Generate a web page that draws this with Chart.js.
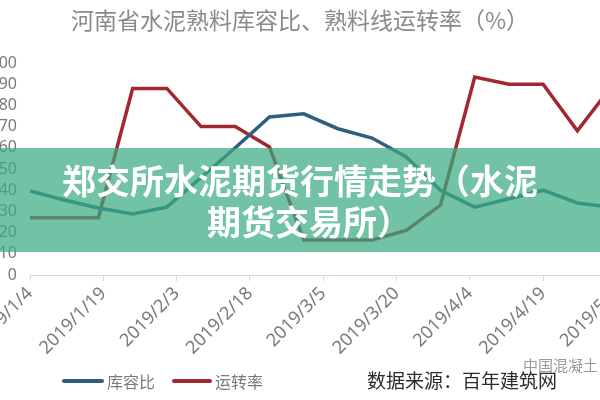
<!DOCTYPE html>
<html>
<head>
<meta charset="utf-8">
<script src="https://cdn.jsdelivr.net/npm/chart.js@4/dist/chart.umd.min.js"></script>
<style>
  html, body { margin:0; padding:0; background:#fff; width:600px; height:400px; overflow:hidden; position:relative; font-family:"Noto Sans CJK SC","Noto Sans",sans-serif; }
  #wrap { position:absolute; left:-40px; top:0; width:700px; height:400px; }
  .abs { position:absolute; white-space:nowrap; }
  #title { left:0; width:600px; top:5px; text-align:center; font-size:23px; line-height:28px; color:#8a8a8a; }
  #banner { left:0; top:148px; width:600px; height:104px; background:rgba(60,170,130,0.72); }
  .bline { position:absolute; left:0; width:600px; text-align:center; color:#fff; font-weight:700; font-size:34px; line-height:41px; }
  .leg { height:4px; border-radius:2px; }
  .legt { font-size:16px; color:#7a7a7a; line-height:22px; }
  #src { left:367px; top:368px; font-size:19px; color:#2b2b2b; line-height:24px; }
  #wm { left:523px; top:356px; font-size:15px; color:#9a9a9a; line-height:18px; }
</style>
</head>
<body>
<div id="wrap"><canvas id="c" width="700" height="400"></canvas></div>
<div id="title" class="abs">河南省水泥熟料库容比、熟料线运转率（%）</div>
<div id="banner" class="abs">
  <div class="bline" style="top:11px;">郑交所水泥期货行情走势（水泥</div>
  <div class="bline" style="top:52px; padding-left:18px; box-sizing:border-box;">期货交易所）</div>
</div>
<div class="abs leg" style="left:62px; top:379px; width:42px; background:#2e5f7f;"></div>
<div class="abs legt" style="left:107px; top:370px;">库容比</div>
<div class="abs leg" style="left:172px; top:379px; width:40px; background:#a12830;"></div>
<div class="abs legt" style="left:215px; top:370px;">运转率</div>
<div id="wm" class="abs">中国混凝土</div>
<div id="src" class="abs">数据来源：百年建筑网</div>
<script>
// ---- data ----
const categories = ['2019/1/4','2019/1/11','2019/1/18','2019/1/25','2019/2/1','2019/2/8','2019/2/15','2019/2/22',
  '2019/3/1','2019/3/8','2019/3/15','2019/3/22','2019/3/29','2019/4/5','2019/4/12','2019/4/19','2019/4/26','2019/5/3'];
const kurongbi = [39.6, 35.4, 31.6, 28.8, 32, 46, 60, 74.5, 76, 69, 64.6, 55.7, 40, 32, 36, 40, 34, 32];
const yunzhuanlv = [27, 27, 27, 88, 88, 70, 70, 60.4, 16.5, 16.5, 16.5, 21, 33, 93.4, 90, 90, 68, 89];
const tickLabels = ['2019/1/4','2019/1/19','2019/2/3','2019/2/18','2019/3/5','2019/3/20','2019/4/4','2019/4/19','2019/5/4'];
const yTicks = [0,10,20,30,40,50,60,70,80,90,100];

function dayOfYear(s){
  const p = s.split('/').map(Number);
  const d = Date.UTC(p[0], p[1]-1, p[2]);
  return Math.round((d - Date.UTC(p[0],0,0)) / 86400000);
}
const xs = categories.map(dayOfYear);
const tickDays = tickLabels.map(dayOfYear);

const blue = '#2e5f7f', red = '#a12830';
new Chart(document.getElementById('c'), {
  type: 'line',
  data: {
    datasets: [
      { label:'库容比', data: xs.map((x,i)=>({x, y:kurongbi[i]})), borderColor: blue, borderWidth: 3.5, pointRadius: 0, tension: 0, fill:false },
      { label:'运转率', data: xs.map((x,i)=>({x, y:yunzhuanlv[i]})), borderColor: red, borderWidth: 3.5, pointRadius: 0, tension: 0, fill:false }
    ]
  },
  options: {
    responsive: false,
    animation: false,
    layout: { padding: { top: 63, right: 24, left: 0, bottom: 0 } },
    plugins: { legend: { display:false }, title: { display:false }, tooltip: { enabled:false } },
    scales: {
      x: {
        type: 'linear', min: tickDays[0], max: 128,
        afterBuildTicks: s => { s.ticks = tickDays.map(v => ({ value: v })); },
        afterFit: s => { s.height = 125; },
        grid: { display:true, drawOnChartArea:false, drawTicks:true, tickLength:6, color:'#d9d9d9' },
        border: { display:true, color:'#d9d9d9', width:1 },
        ticks: {
          autoSkip:false, minRotation:45, maxRotation:45, padding:2,
          color:'#7a7a7a', font:{ family:'"Noto Sans","Liberation Sans",sans-serif', size:18 },
          callback: (v, i) => tickLabels[i]
        }
      },
      y: {
        min: 0, max: 100,
        afterBuildTicks: s => { s.ticks = yTicks.map(v => ({ value: v })); },
        afterFit: s => { s.width = 70; },
        grid: { display:false, drawTicks:false },
        border: { display:false },
        ticks: { autoSkip:false, padding:13, color:'#7a7a7a', font:{ family:'"Noto Sans","Liberation Sans",sans-serif', size:16 } }
      }
    }
  }
});
</script>
</body>
</html>
